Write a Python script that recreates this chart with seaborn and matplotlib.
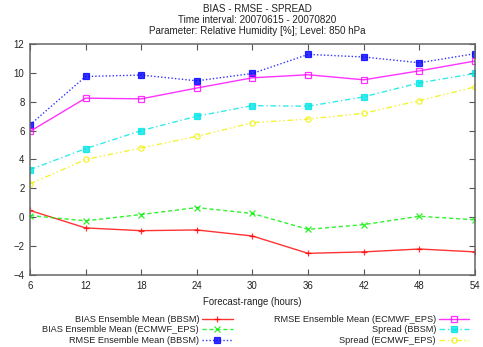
import matplotlib
matplotlib.use("Agg")
import matplotlib.pyplot as plt
import seaborn as sns

hours = [6, 12, 18, 24, 30, 36, 42, 48, 54]
bias_bbsm = [0.47, -0.74, -0.93, -0.88, -1.3, -2.5, -2.4, -2.2, -2.4]
bias_ecmwf = [0.12, -0.25, 0.19, 0.67, 0.26, -0.84, -0.51, 0.07, -0.18]
rmse_bbsm = [6.4, 9.75, 9.85, 9.45, 9.96, 11.28, 11.1, 10.7, 11.33]
rmse_ecmwf = [5.95, 8.25, 8.2, 8.95, 9.66, 9.87, 9.52, 10.14, 10.82]
spread_bbsm = [3.3, 4.75, 6.0, 7.0, 7.73, 7.69, 8.34, 9.31, 9.96]
spread_ecmwf = [2.31, 4.0, 4.8, 5.6, 6.55, 6.8, 7.2, 8.08, 9.03]
labels = ["BIAS Ensemble Mean (BBSM)", "BIAS Ensemble Mean (ECMWF_EPS)",
          "RMSE Ensemble Mean (BBSM)", "RMSE Ensemble Mean (ECMWF_EPS)",
          "Spread (BBSM)", "Spread (ECMWF_EPS)"]
yticks = [-4, -2, 0, 2, 4, 6, 8, 10, 12]

sns.set_style("ticks")
plt.rcParams['font.family'] = ['Liberation Sans', 'DejaVu Sans']
FS = 6.6
FT = 7.1
FK = 6.9

fig = plt.figure(figsize=(4.83, 3.47), dpi=100)
ax = fig.add_axes([0.0621, 0.2075, 0.9213, 0.6657])

series = [bias_bbsm, bias_ecmwf, rmse_bbsm, rmse_ecmwf, spread_bbsm, spread_ecmwf]
styles = [
    dict(color="#ff0000", linestyle="-", marker="+", mfc="#ff0000"),
    dict(color="#00ee00", linestyle=(0, (3, 2)), marker="x", mfc="#00ee00"),
    dict(color="#0000ff", linestyle=(0, (1, 1.5)), marker="s", mfc="#0000ff"),
    dict(color="#ff00ff", linestyle="-", marker="s", mfc="none"),
    dict(color="#00e5e5", linestyle=(0, (4, 2, 1, 2)), marker="s", mfc="#00e5e5"),
    dict(color="#f0f000", linestyle=(0, (4, 2, 1, 2, 1, 2)), marker="o", mfc="none"),
]
for vals, lab, st in zip(series, labels, styles):
    sns.lineplot(x=hours, y=vals, ax=ax, label=lab, color=st["color"],
                 linestyle=st["linestyle"], marker=st["marker"],
                 markerfacecolor=st["mfc"], markeredgecolor=st["color"],
                 markersize=3.8, markeredgewidth=0.9, linewidth=1.0, alpha=0.8)

ax.set_xlim(6, 54)
ax.set_ylim(-4, 12)
ax.set_xticks(hours)
ax.set_yticks(yticks)
ax.tick_params(direction="in", top=True, right=True, labelsize=FK, length=4,
               width=0.8, color="#555555", pad=4, labelcolor="#222222")
for s in ax.spines.values():
    s.set_visible(True)
    s.set_color("#666666")
    s.set_linewidth(1.1)
ax.set_xlabel("Forecast-range (hours)", fontsize=FK, color="#222222", labelpad=5)
ax.set_ylabel("")

fig.text(0.532, 1 - 9.5 / 347, "BIAS - RMSE - SPREAD", ha="center", va="center", fontsize=FT, color="#222222")
fig.text(0.532, 1 - 20 / 347, "Time interval: 20070615 - 20070820", ha="center", va="center", fontsize=FT, color="#222222")
fig.text(0.532, 1 - 30.5 / 347, "Parameter: Relative Humidity [%]; Level: 850 hPa", ha="center", va="center", fontsize=FT, color="#222222")

ax.get_legend().remove()
h, l = ax.get_legend_handles_labels()
leg = fig.legend(h, l, ncol=2, markerfirst=False, loc="lower right",
                 bbox_to_anchor=(0.985, -0.012), frameon=False, fontsize=FS,
                 handlelength=3.3, handletextpad=0.35, columnspacing=4.5,
                 labelspacing=0.15, borderpad=0.2)
for t in leg.get_texts():
    t.set_color("#222222")

fig.savefig("out.png", dpi=100)
